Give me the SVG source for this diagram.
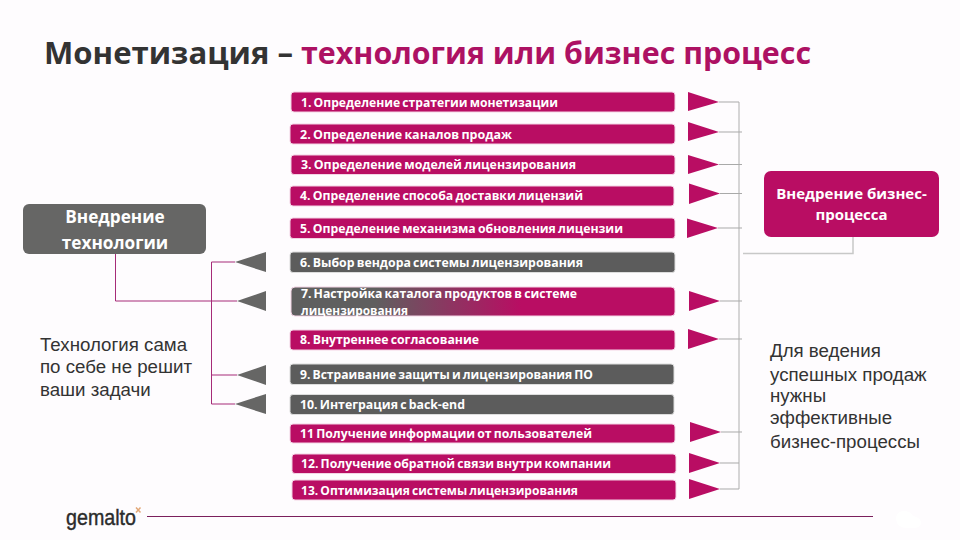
<svg xmlns="http://www.w3.org/2000/svg" width="960" height="540" viewBox="0 0 960 540">
<defs>
<linearGradient id="g7" x1="0" y1="0" x2="1" y2="0"><stop offset="0.22" stop-color="#5f5f5f"/><stop offset="0.6" stop-color="#b90d63"/></linearGradient>
<style>
.bar{stroke:#f3d3e4;stroke-width:1}
.m{fill:#b90d63}.g{fill:#5c5c5c}
.bt{font:bold 12px "Open Sans","Liberation Sans",sans-serif;fill:#fff;word-spacing:-1px}
.tm{fill:#b90d63}.tg{fill:#666665}
.gl{fill:none;stroke:#a9a9a9;stroke-width:1}
.gb{fill:none;stroke:#c8c8c8;stroke-width:1.5}
.pl{fill:none;stroke:#a62b78;stroke-width:1}
.body{font:18.7px "Liberation Sans",Arial,sans-serif;fill:#333}
.hd{font:bold 17.2px "Open Sans","Liberation Sans",sans-serif;fill:#fff;text-anchor:middle}
.tt{font:bold 30px "Open Sans","Liberation Sans",sans-serif}
</style>
</defs>
<rect width="960" height="540" fill="#fefcfe"/>
<text class="tt" x="44" y="64" fill="#333" textLength="249" lengthAdjust="spacingAndGlyphs">Монетизация –</text>
<text class="tt" x="301" y="64" fill="#ad1163" textLength="510" lengthAdjust="spacingAndGlyphs">технология или бизнес процесс</text>

<g id="connectors">
<path class="gb" d="M739 102V489"/>
<path class="gl" d="M719 102H739M719 132H742M719 164.500H742M720 193.500H742M718 228H742M720 301H742M719 339H742M721 432H742M720 463H739M720 489H739"/>
<path class="gb" d="M743 253.500H853V237"/>
<path class="pl" d="M115.500 254V301H211.500M235 262H211.500V404H235M237 301H211.500M237 375H211.500"/>
<polygon class="tm" points="688,92 719,102 688,111"/>
<polygon class="tm" points="688,122 719,132 688,141"/>
<polygon class="tm" points="688,155 719,164.500 688,174"/>
<polygon class="tm" points="689,183.500 720,193.500 689,204"/>
<polygon class="tm" points="687,218.500 718,228 687,238"/>
<polygon class="tm" points="689,291 720,301 689,311"/>
<polygon class="tm" points="688,329 719,339 688,349"/>
<polygon class="tm" points="690,422 721,432 690,442"/>
<polygon class="tm" points="689,453 720,463 689,473"/>
<polygon class="tm" points="689,479 720,489 689,499"/>
<polygon class="tg" points="266,252 235,262 266,272"/>
<polygon class="tg" points="266,291 237,301 266,311"/>
<polygon class="tg" points="266,365 237,375 266,385"/>
<polygon class="tg" points="266,394 235,404 266,414"/>
<path d="M147 516.500H873" stroke="#7b1f5c" stroke-width="1.200" fill="none"/>
</g>

<g id="n1"><rect class="bar m" x="291" y="92" width="384" height="20" rx="3"/><text class="bt" x="301" y="106.500" textLength="257" lengthAdjust="spacingAndGlyphs">1. Определение стратегии монетизации</text></g>
<g id="n2"><rect class="bar m" x="290" y="124" width="385" height="20" rx="3"/><text class="bt" x="300" y="138.500" textLength="212" lengthAdjust="spacingAndGlyphs">2. Определение каналов продаж</text></g>
<g id="n3"><rect class="bar m" x="291" y="155" width="384" height="19.500" rx="3"/><text class="bt" x="301" y="169" textLength="275" lengthAdjust="spacingAndGlyphs">3. Определение моделей лицензирования</text></g>
<g id="n4"><rect class="bar m" x="290" y="186" width="384" height="20" rx="3"/><text class="bt" x="300" y="200" textLength="283" lengthAdjust="spacingAndGlyphs">4. Определение способа доставки лицензий</text></g>
<g id="n5"><rect class="bar m" x="290" y="218" width="385" height="20.500" rx="3"/><text class="bt" x="300" y="232.500" textLength="323" lengthAdjust="spacingAndGlyphs">5. Определение механизма обновления лицензии</text></g>
<g id="n6"><rect class="bar g" x="290" y="252" width="385" height="20.500" rx="3" style="stroke:#ddd"/><text class="bt" x="300" y="266.500" textLength="283" lengthAdjust="spacingAndGlyphs">6. Выбор вендора системы лицензирования</text></g>
<g id="n7"><rect class="bar" x="291" y="287" width="384" height="29" rx="4" fill="url(#g7)"/><text class="bt" x="301" y="298" textLength="276" lengthAdjust="spacingAndGlyphs">7. Настройка каталога продуктов в системе</text><text class="bt" x="301" y="315" textLength="107" lengthAdjust="spacingAndGlyphs">лицензирования</text></g>
<g id="n8"><rect class="bar m" x="290" y="330" width="385" height="20" rx="3"/><text class="bt" x="300" y="344" textLength="179" lengthAdjust="spacingAndGlyphs">8. Внутреннее согласование</text></g>
<g id="n9"><rect class="bar g" x="290" y="364" width="384" height="20.500" rx="3" style="stroke:#ddd"/><text class="bt" x="300" y="378.500" textLength="293" lengthAdjust="spacingAndGlyphs">9. Встраивание защиты и лицензирования ПО</text></g>
<g id="n10"><rect class="bar g" x="290" y="394.500" width="384" height="20" rx="3" style="stroke:#ddd"/><text class="bt" x="300" y="409" textLength="165" lengthAdjust="spacingAndGlyphs">10. Интеграция с back-end</text></g>
<g id="n11"><rect class="bar m" x="290" y="424" width="385" height="19" rx="3"/><text class="bt" x="300" y="438" textLength="292" lengthAdjust="spacingAndGlyphs">11 Получение информации от пользователей</text></g>
<g id="n12"><rect class="bar m" x="292" y="454" width="384" height="19.500" rx="3"/><text class="bt" x="301" y="468" textLength="310" lengthAdjust="spacingAndGlyphs">12. Получение обратной связи внутри компании</text></g>
<g id="n13"><rect class="bar m" x="292" y="480" width="384" height="20" rx="3"/><text class="bt" x="301" y="495" textLength="277" lengthAdjust="spacingAndGlyphs">13. Оптимизация системы лицензирования</text></g>

<g id="tech"><rect x="23" y="204" width="183" height="50" rx="6" fill="#666665"/><text class="hd" x="115" y="223">Внедрение</text><text class="hd" x="115" y="249">технологии</text></g>
<g id="biz"><rect x="764" y="171" width="175" height="66" rx="7" fill="#b90d63"/><text class="hd" x="851.500" y="199" style="font-size:15px">Внедрение бизнес-</text><text class="hd" x="851.500" y="220" style="font-size:15px">процесса</text></g>

<g id="note-left" class="body"><text x="40" y="351">Технология сама</text><text x="40" y="373">по себе не решит</text><text x="40" y="396">ваши задачи</text></g>
<g id="note-right" class="body"><text x="770" y="357">Для ведения</text><text x="770" y="381">успешных продаж</text><text x="770" y="402">нужны</text><text x="770" y="424">эффективные</text><text x="770" y="448">бизнес-процессы</text></g>

<g id="logo"><text x="66" y="525" font-family="Liberation Sans, sans-serif" font-size="22" fill="#2b2b2b" stroke="#2b2b2b" stroke-width="0.4" textLength="70" lengthAdjust="spacingAndGlyphs">gemalto</text><path d="M136 507.500L140.500 512.500M140.500 507.500L136 512.500" stroke="#e2a878" stroke-width="1.500"/></g>
<path d="M896 518Q897 511 904 511Q910 511 913 516Q922 518 921 524Q920 529 908 528Q896 528 896 518Z" fill="#fff"/>
</svg>
